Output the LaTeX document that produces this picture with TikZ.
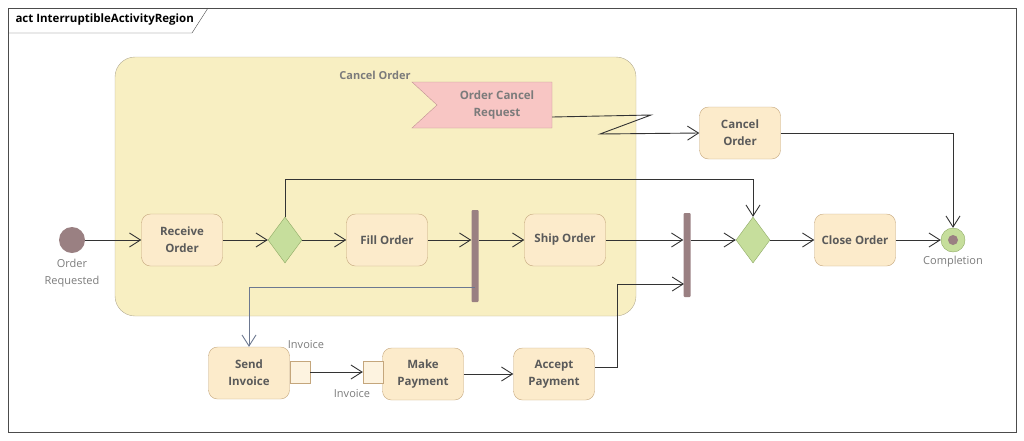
\documentclass[tikz,border=0pt]{standalone}
\usepackage{fontspec}
\setmainfont{Open Sans}
\usetikzlibrary{positioning, arrows.meta, shapes.geometric, calc}
\definecolor{actfill}{HTML}{FCEBCB}
\definecolor{actdraw}{HTML}{C4A67C}
\definecolor{regfill}{HTML}{F8EFC2}
\definecolor{regdraw}{HTML}{B4AC94}
\definecolor{decfill}{HTML}{C6DE9C}
\definecolor{decdraw}{HTML}{8EAA64}
\definecolor{barcol}{HTML}{9A8082}
\definecolor{sigfill}{HTML}{F8C6C4}
\definecolor{sigdraw}{HTML}{C09492}
\definecolor{txtcol}{HTML}{5A5A5A}
\definecolor{objflow}{HTML}{6C7890}
\tikzset{%
  activity/.style={draw=actdraw, fill=actfill, rounded corners=9pt, minimum width=81pt,
    minimum height=52pt, align=center, font=\fontsize{11.5}{17}\selectfont\bfseries, text=txtcol},
  decision/.style={diamond, draw=decdraw, fill=decfill, minimum width=34pt, minimum height=46pt,
    inner sep=0pt, aspect=0.74},
  bar/.style={fill=barcol, rounded corners=1pt, minimum width=7pt, inner sep=0pt},
  pin/.style={draw=actdraw, fill=actfill!60, minimum width=20pt, minimum height=22pt, inner sep=0pt},
  small/.style={font=\fontsize{11}{17}\selectfont, text=txtcol!80, align=center},
  flow/.style={draw=black!80, line width=0.9pt, -{Straight Barb[length=11pt,width=14pt]}}
}
\begin{document}
\begin{tikzpicture}[x=1pt, y=-1pt]
\useasboundingbox (0,0) rectangle (1024,440);

% frame and title tab
\draw[black!70] (8,8) rectangle (1016,432);
\draw[black!70] (8,33) -- (192,33) -- (208,8);
\node[anchor=west, font=\fontsize{11.5}{13}\selectfont\bfseries] (title) at (12,20) {act InterruptibleActivityRegion};

% interruptible region
\draw[draw=regdraw, fill=regfill, rounded corners=20pt] (115,57) rectangle (636,316);
\node[small, font=\fontsize{11}{13}\selectfont\bfseries] (region) at (375,75) {Cancel Order};

% accept event
\draw[draw=sigdraw, fill=sigfill] (412,82) -- (552,82) -- (552,128) -- (412,128) -- (437,105) -- cycle;
\node[small, font=\fontsize{11.5}{17}\selectfont\bfseries] (sig) at (497,105) {Order Cancel\\Request};
\coordinate (sigout) at (552,117);
\coordinate (zig1) at (651,115);
\coordinate (zig2) at (600,134);

% nodes
\fill[barcol] (72,240) circle (13pt);
\node[minimum size=26pt, inner sep=0pt] (start) at (72,240) {};
\node[small, below=2pt of start] {Order\\Requested};
\node[activity] (receive) at (182,240) {Receive\\Order};
\node[decision] (dec1) at (285,240) {};
\node[activity] (fill) at (387,240) {Fill Order};
\node[bar, minimum height=92pt] (fork) at (475,256) {};
\node[activity] (ship) at (565,240) {Ship Order};
\node[bar, minimum height=84pt] (join) at (687,255) {};
\node[decision] (dec2) at (753,240) {};
\node[activity] (close) at (855,240) {Close Order};
\node[draw=decdraw, fill=decfill, circle, minimum size=24pt, inner sep=0pt] (final) at (953,240) {};
\fill[barcol] (final) circle (5pt);
\node[small, below=0pt of final] {Completion};
\node[activity] (cancel) at (740,133) {Cancel\\Order};

\node[activity] (send) at (249,373) {Send\\Invoice};
\node[pin] (pinout) at (300,372) {};
\node[small] (pinoutlbl) at (306,345) {Invoice};
\node[activity] (pay) at (423,374) {Make\\Payment};
\node[pin] (pinin) at (373,372) {};
\node[small] (pininlbl) at (352,394) {Invoice};
\node[activity] (accept) at (554,374) {Accept\\Payment};
\coordinate (fkout) at (475,287);
\coordinate (acout) at (595,367);
\coordinate (jnin) at (684,284);
\coordinate (bend) at (617,367);
\coordinate (skip) at (753,179);

% flows
\draw[flow] (start) -- (receive);
\draw[flow] (receive) -- (dec1);
\draw[flow] (dec1) -- (fill);
\draw[flow] (fill) -- (fill -| fork.west);
\draw[flow] (fill -| fork.east) -- (ship);
\draw[flow] (ship) -- (ship -| join.west);
\draw[flow] (ship -| join.east) -- (dec2);
\draw[flow] (dec2) -- (close);
\draw[flow] (close) -- (final);
\draw[flow] (dec1.north) |- (skip) -- (dec2.north);
\draw[flow] (cancel.east) -| (final.north);
\draw[flow] (sigout) -- (zig1) -- (zig2) -- (cancel.west);
\draw[flow, draw=objflow] (fkout) -| (send.north);
\draw[flow] (pinout) -- (pinin);
\draw[flow] (pay) -- (accept);
\draw[flow] (acout) -- (bend) |- (jnin);
\end{tikzpicture}
\end{document}
